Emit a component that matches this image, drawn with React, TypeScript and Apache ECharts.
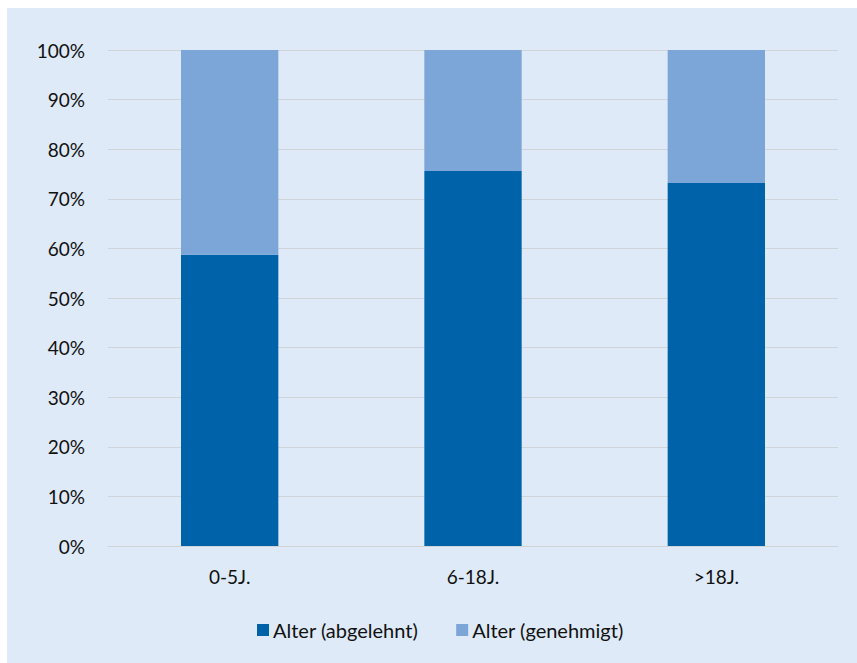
import React, { useEffect, useRef } from "react";
import * as echarts from "echarts";

const categories = ["0-5J.", "6-18J.", ">18J."];
const abgelehnt = [58.7, 75.6, 73.2];
const genehmigt = [41.3, 24.4, 26.8];
const seriesNames = ["Alter (abgelehnt)", "Alter (genehmigt)"];

export default function App() {
  const ref = useRef<HTMLDivElement>(null);
  useEffect(() => {
    if (!ref.current) return;
    const chart = echarts.init(ref.current, undefined, { renderer: "svg" });
    const font = "Lato, 'Open Sans', sans-serif";
    chart.setOption({
      animation: false,
      backgroundColor: "#deeaf7",
      textStyle: { fontFamily: font },
      grid: { left: 101, right: 19, top: 42, bottom: 117 },
      legend: {
        left: 245,
        top: 607,
        itemWidth: 12,
        itemHeight: 12,
        itemGap: 38,
        icon: "rect",
        textStyle: { fontFamily: font, fontSize: 20, color: "#111", padding: [0, 0, 0, -1] },
        data: seriesNames,
      },
      xAxis: {
        type: "category",
        data: categories,
        axisLine: { show: true, lineStyle: { color: "#d0d3d8", width: 1 } },
        axisTick: { show: false },
        axisLabel: { color: "#111", fontSize: 19, fontFamily: font, margin: 21 },
      },
      yAxis: {
        type: "value",
        min: 0,
        max: 100,
        interval: 10,
        axisLine: { show: false },
        axisTick: { show: false },
        splitLine: { lineStyle: { color: "#d0d3d8", width: 1 } },
        axisLabel: { color: "#111", fontSize: 19, fontFamily: font, margin: 23, formatter: "{value}%" },
      },
      series: [
        {
          name: seriesNames[0],
          type: "bar",
          stack: "a",
          data: abgelehnt,
          barCategoryGap: "60%",
          itemStyle: { color: "#0063aa" },
        },
        {
          name: seriesNames[1],
          type: "bar",
          stack: "a",
          data: genehmigt,
          barCategoryGap: "60%",
          itemStyle: { color: "#7ba6d7" },
        },
      ],
    });
    return () => chart.dispose();
  }, []);
  return (
    <div
      ref={ref}
      style={{ position: "fixed", left: 7, top: 8, width: 850, height: 655 }}
    />
  );
}
